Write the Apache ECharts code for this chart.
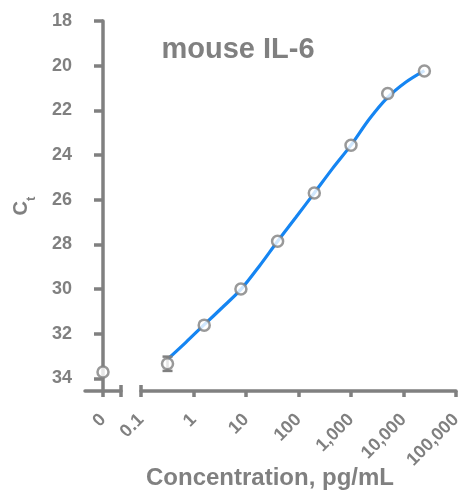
<!DOCTYPE html>
<html><head><meta charset="utf-8">
<script src="https://cdn.jsdelivr.net/npm/echarts@6/dist/echarts.min.js"></script>
<style>html,body{margin:0;padding:0;background:#fff}#c{width:464px;height:491px}</style>
</head><body><div id="c"></div>
<script>
// ---- data ----
const chartTitle = 'mouse IL-6';
const xAxisTitle = 'Concentration, pg/mL';
const concentrations = [0.32, 1.6, 8, 40, 200, 1000, 5000, 25000];
const ctMeans = [33.35, 31.62, 30.0, 27.86, 25.7, 23.56, 21.25, 20.24];
const ctErrors = [0.32, 0, 0, 0, 0, 0, 0, 0];
const blankConc = [0];
const blankCt = [33.72];
// fitted curve
const fitConc = [0.32, 0.716, 1.6, 3.58, 8, 17.9, 40, 89.4, 200, 447, 1000, 2236, 5000, 11180, 25000];
const fitCt = [33.15, 32.39, 31.6, 30.82, 30.02, 28.98, 27.86, 26.79, 25.7, 24.6, 23.56, 22.39, 21.42, 20.73, 20.22];
const yTicks = [18, 20, 22, 24, 26, 28, 30, 32, 34];
const yMin = 18, yMax = 34.57;
const xTicks = [0.1, 1, 10, 100, 1000, 10000, 100000];
const xTickLabels = ['0.1', '1', '10', '100', '1,000', '10,000', '100,000'];
const blankTicks = [0];
const blankTickLabels = ['0'];

// ---- styling ----
const GRAY = '#808080';
const BLUE = '#1585f2';
const FONT = 'Liberation Sans, Arial, sans-serif';
const TOP = 21, HEIGHT = 370;
const labelStyle = { color: GRAY, fontFamily: FONT, fontWeight: 'bold', fontSize: 18 };
const lineStyle = { color: GRAY, width: 3.5 };

const chart = echarts.init(document.getElementById('c'), null, { renderer: 'canvas' });

const option = {
  animation: false,
  backgroundColor: '#fff',
  title: [
    { text: chartTitle, left: 233, top: 30, textAlign: 'center',
      textStyle: { color: GRAY, fontFamily: FONT, fontWeight: 'bold', fontSize: 29 } },
    { text: xAxisTitle, left: 265, top: 461, textAlign: 'center',
      textStyle: { color: GRAY, fontFamily: FONT, fontWeight: 'bold', fontSize: 24 } }
  ],
  grid: [
    { left: 85, top: TOP, width: 36, height: HEIGHT, containLabel: false, outerBoundsMode: 'none' },
    { left: 141, top: TOP, width: 315, height: HEIGHT, containLabel: false, outerBoundsMode: 'none' }
  ],
  xAxis: [
    { gridIndex: 0, type: 'value', min: -1, max: 1, position: 'bottom',
      axisLine: { show: true, lineStyle }, splitLine: { show: false },
      axisTick: { show: true, length: 6, lineStyle, customValues: [0, 1] },
      axisLabel: { ...labelStyle, rotate: 45, margin: 26, customValues: blankTicks,
        formatter: v => blankTickLabels[blankTicks.indexOf(v)] ?? '' } },
    { gridIndex: 1, type: 'log', logBase: 10, min: xTicks[0], max: xTicks[xTicks.length - 1], interval: 1,
      position: 'bottom',
      axisLine: { show: true, lineStyle }, splitLine: { show: false }, minorTick: { show: false },
      axisTick: { show: true, length: 6, lineStyle },
      axisLabel: { ...labelStyle, rotate: 45, margin: 26, showMinLabel: true, showMaxLabel: true,
        formatter: v => { const i = Math.round(Math.log10(v)) + 1; return xTickLabels[i] ?? ''; } } },
    // break caps (upward part)
    { gridIndex: 0, type: 'value', min: 0, max: 1, position: 'bottom',
      axisLine: { show: false }, splitLine: { show: false }, axisLabel: { show: false },
      axisTick: { show: true, inside: true, length: 6, lineStyle, customValues: [1] } },
    { gridIndex: 1, type: 'value', min: 0, max: 1, position: 'bottom',
      axisLine: { show: false }, splitLine: { show: false }, axisLabel: { show: false },
      axisTick: { show: true, inside: true, length: 6, lineStyle, customValues: [0] } }
  ],
  yAxis: [
    { gridIndex: 0, type: 'value', inverse: true, min: yMin, max: yMax, interval: 2,
      name: '{c|C}{t|t}', nameLocation: 'middle', nameRotate: 90, nameGap: 47,
      nameTextStyle: { color: GRAY, fontFamily: FONT, fontWeight: 'bold',
        rich: {
          c: { color: GRAY, fontFamily: FONT, fontWeight: 'bold', fontSize: 20, lineHeight: 33, verticalAlign: 'middle' },
          t: { color: GRAY, fontFamily: FONT, fontWeight: 'bold', fontSize: 13, lineHeight: 33, verticalAlign: 'bottom' }
        } },
      axisLine: { show: true, lineStyle }, splitLine: { show: false },
      axisTick: { show: true, length: 9, lineStyle, customValues: yTicks },
      axisLabel: { ...labelStyle, margin: 13, customValues: yTicks } },
    { gridIndex: 1, type: 'value', inverse: true, min: yMin, max: yMax, interval: 2, show: false }
  ],
  series: [
    { type: 'scatter', xAxisIndex: 0, yAxisIndex: 0,
      data: blankConc.map((x, i) => [x, blankCt[i]]),
      symbol: 'circle', symbolSize: 11,
      itemStyle: { color: '#fff', borderColor: GRAY, borderWidth: 2.5 }, z: 5 },
    { type: 'line', xAxisIndex: 1, yAxisIndex: 1,
      data: fitConc.map((x, i) => [x, fitCt[i]]),
      smooth: 0.3, showSymbol: false, symbol: 'none',
      lineStyle: { color: BLUE, width: 3.2 }, z: 2 },
    { type: 'custom', xAxisIndex: 1, yAxisIndex: 1,
      data: concentrations.map((x, i) => [x, ctMeans[i] - ctErrors[i], ctMeans[i] + ctErrors[i]]),
      renderItem: (params, api) => {
        const x = api.value(0), lo = api.value(1), hi = api.value(2);
        if (hi - lo <= 0) return null;
        const p1 = api.coord([x, lo]), p2 = api.coord([x, hi]);
        const w = 5;
        const st = { stroke: GRAY, lineWidth: 2.5, fill: null };
        return { type: 'group', children: [
          { type: 'line', shape: { x1: p1[0], y1: p1[1], x2: p2[0], y2: p2[1] }, style: st },
          { type: 'line', shape: { x1: p1[0] - w, y1: p1[1], x2: p1[0] + w, y2: p1[1] }, style: st },
          { type: 'line', shape: { x1: p2[0] - w, y1: p2[1], x2: p2[0] + w, y2: p2[1] }, style: st }
        ] };
      }, z: 3 },
    { type: 'scatter', xAxisIndex: 1, yAxisIndex: 1,
      data: concentrations.map((x, i) => [x, ctMeans[i]]),
      symbol: 'circle', symbolSize: 11,
      itemStyle: { color: '#fff', borderColor: GRAY, borderWidth: 2.5 }, z: 5 }
  ]
};
chart.setOption(option);
</script></body></html>
